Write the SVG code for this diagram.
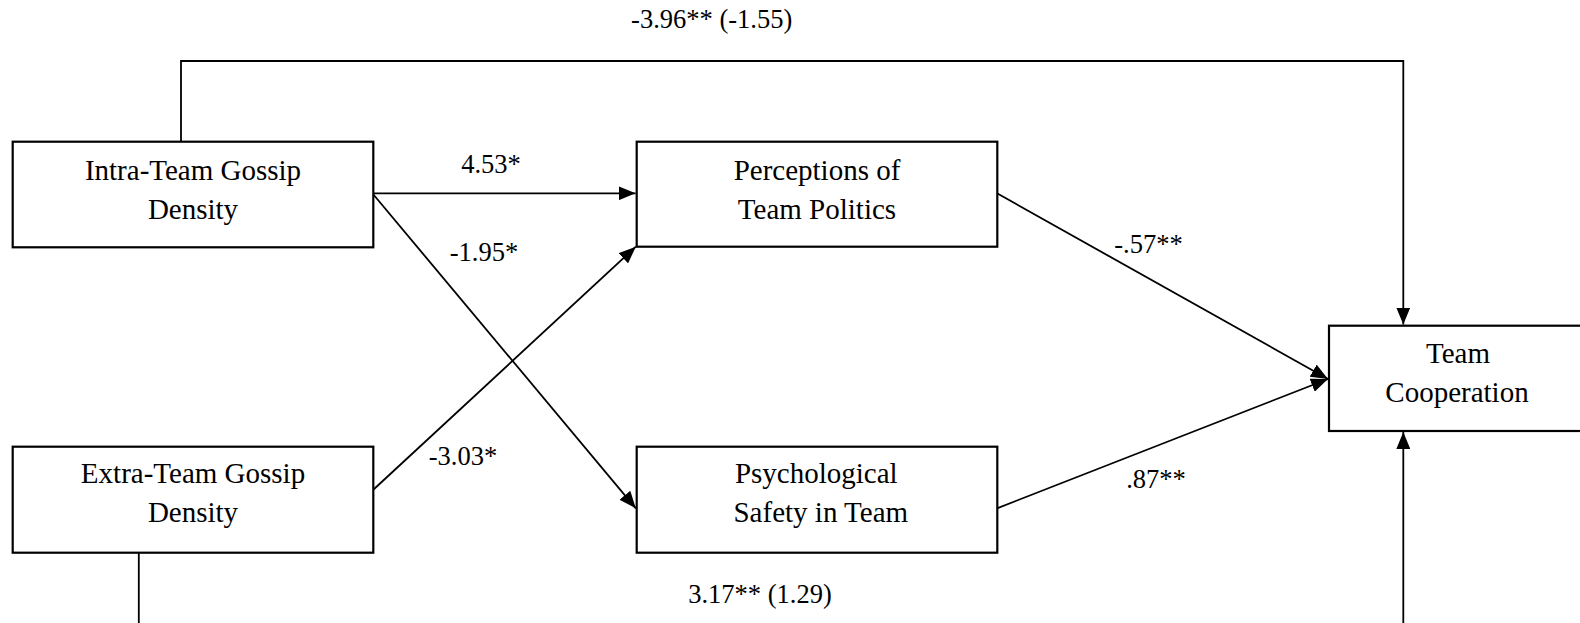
<svg xmlns="http://www.w3.org/2000/svg" width="1580" height="623" viewBox="0 0 1580 623">
<style>
.box{fill:#fff;stroke:#000;stroke-width:2.2}
.t{font-family:"Liberation Serif","Times New Roman",serif;font-size:29px;fill:#000;text-anchor:middle}
.l{font-family:"Liberation Serif","Times New Roman",serif;font-size:26.5px;fill:#000;text-anchor:middle}
.c{fill:none;stroke:#000;stroke-width:1.8}
</style>
<defs>
<marker id="ah" markerUnits="userSpaceOnUse" markerWidth="17" markerHeight="14" refX="17" refY="7" orient="auto">
<path d="M0,0 L17,7 L0,14 z" fill="#000"/>
</marker>
</defs>
<g id="connectors">
<path class="c" d="M181,141.7 V61 H1403.3 V324.6" marker-end="url(#ah)"/>
<path class="c" d="M373,193.3 H635.6" marker-end="url(#ah)"/>
<path class="c" d="M373,194 L635.8,508.3" marker-end="url(#ah)"/>
<path class="c" d="M373,490 L635.8,246.7" marker-end="url(#ah)"/>
<path class="c" d="M997,193.3 L1328,379" marker-end="url(#ah)"/>
<path class="c" d="M997,508.3 L1328,379" marker-end="url(#ah)"/>
<path class="c" d="M138.8,552.7 V640 H1403.3 V432.1" marker-end="url(#ah)"/>
<text class="l" x="711.7" y="28.3">-3.96** (-1.55)</text>
<text class="l" x="491" y="172.7">4.53*</text>
<text class="l" x="484" y="261">-1.95*</text>
<text class="l" x="463" y="465">-3.03*</text>
<text class="l" x="1148.5" y="253.3">-.57**</text>
<text class="l" x="1156" y="488.3">.87**</text>
<text class="l" x="760" y="603.3">3.17** (1.29)</text>
</g>
<g id="intra">
<rect class="box" x="12.7" y="141.7" width="360.6" height="105.6"/>
<text class="t" x="193" y="179.5">Intra-Team Gossip</text>
<text class="t" x="193" y="218.8">Density</text>
</g>
<g id="extra">
<rect class="box" x="12.7" y="446.7" width="360.6" height="106"/>
<text class="t" x="193" y="483.3">Extra-Team Gossip</text>
<text class="t" x="193" y="521.7">Density</text>
</g>
<g id="perceptions">
<rect class="box" x="636.7" y="141.7" width="360.6" height="105"/>
<text class="t" x="817" y="179.5">Perceptions of</text>
<text class="t" x="817" y="218.8">Team Politics</text>
</g>
<g id="psych">
<rect class="box" x="636.7" y="446.7" width="360.6" height="106"/>
<text class="t" x="816.3" y="483.3">Psychological</text>
<text class="t" x="820.8" y="521.7">Safety in Team</text>
</g>
<g id="cooperation">
<rect class="box" x="1329" y="325.7" width="257" height="105.3"/>
<text class="t" x="1458" y="363.3">Team</text>
<text class="t" x="1457" y="401.7">Cooperation</text>
</g>
</svg>
